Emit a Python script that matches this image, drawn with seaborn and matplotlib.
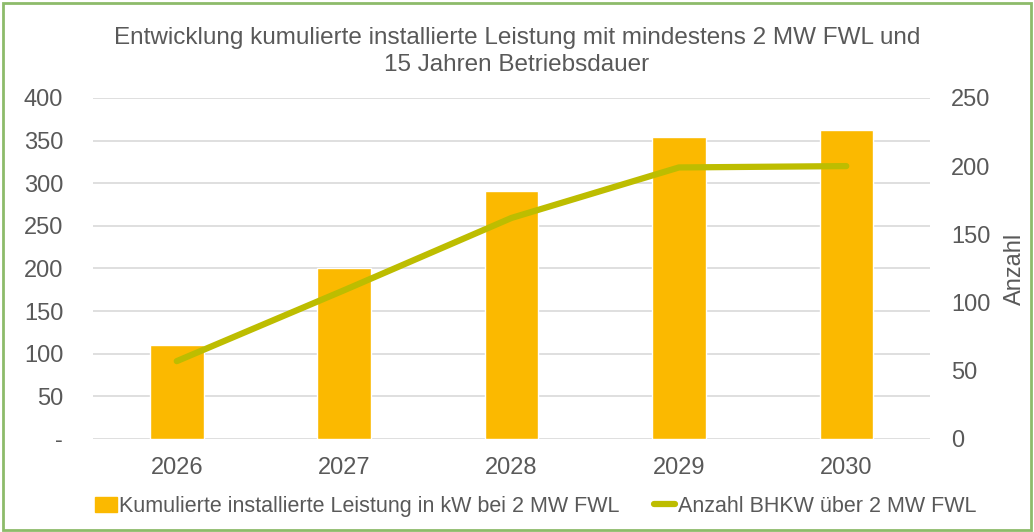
import matplotlib
matplotlib.use("Agg")
import matplotlib.pyplot as plt
import numpy as np
import pandas as pd
import seaborn as sns
from matplotlib.patches import Rectangle
from matplotlib.lines import Line2D
from matplotlib.ticker import FuncFormatter

years = ["2026", "2027", "2028", "2029", "2030"]
leistung_kw = [110, 200, 291, 354, 362]
anzahl_bhkw = [57, 109, 162, 199, 200]

TITLE = "Entwicklung kumulierte installierte Leistung mit mindestens 2 MW FWL und\n15 Jahren Betriebsdauer"
BAR_LABEL = "Kumulierte installierte Leistung in kW bei 2 MW FWL"
LINE_LABEL = "Anzahl BHKW über 2 MW FWL"

BAR_COLOR = "#FBB900"
LINE_COLOR = "#BDBD00"
TEXT_COLOR = "#595959"
GRID_COLOR = "#D9D9D9"

sns.set_style("white")
plt.rcParams["font.family"] = ["Liberation Sans", "DejaVu Sans"]

df = pd.DataFrame({"Jahr": years, "Leistung": leistung_kw, "Anzahl": anzahl_bhkw})
df["pos"] = np.arange(len(df))

fig = plt.figure(figsize=(10.34, 5.32), dpi=100)
ax = fig.add_axes([0.09, 0.175, 0.8094, 0.641])

sns.barplot(data=df, x="Jahr", y="Leistung", color=BAR_COLOR, width=0.32,
            saturation=1, ax=ax, zorder=2)
ax.set_ylim(0, 400)
ax.set_xlim(-0.5, 4.5)
ax.set_yticks(range(0, 401, 50))
ax.yaxis.set_major_formatter(FuncFormatter(lambda v, p: "-" if v == 0 else f"{v:.0f}"))
ax.grid(axis="y", color=GRID_COLOR, linewidth=1.2, zorder=0)
ax.set_axisbelow(True)
ax.set_xlabel("")
ax.set_ylabel("")
for s in ax.spines.values():
    s.set_visible(False)
ax.tick_params(axis="both", length=0, labelsize=17, colors=TEXT_COLOR)
ax.tick_params(axis="y", pad=21.5)
ax.tick_params(axis="x", pad=13)

ax2 = ax.twinx()
sns.lineplot(data=df, x="pos", y="Anzahl", color=LINE_COLOR, linewidth=4.5,
             solid_capstyle="round", ax=ax2, zorder=3)
ax2.set_ylim(0, 250)
ax2.set_xlim(-0.5, 4.5)
ax2.set_yticks(range(0, 251, 50))
ax2.set_xlabel("")
ax2.set_ylabel("Anzahl", fontsize=17, color=TEXT_COLOR, labelpad=10)
for s in ax2.spines.values():
    s.set_visible(False)
ax2.tick_params(axis="y", length=0, labelsize=17, colors=TEXT_COLOR, pad=15)
ax2.grid(False)

fig.text(0.5, 0.95, TITLE, ha="center", va="top", fontsize=17.5,
         color=TEXT_COLOR, linespacing=1.3)

handles = [Rectangle((0, 0), 1, 1, color=BAR_COLOR),
           Line2D([0], [0], color=LINE_COLOR, linewidth=4.5, solid_capstyle="round")]
fig.legend(handles, [BAR_LABEL, LINE_LABEL], loc="center", bbox_to_anchor=(0.518, 0.048),
           ncol=2, frameon=False, fontsize=15.5, labelcolor=TEXT_COLOR,
           handlelength=1.0, handletextpad=0.1, columnspacing=1.6)

fig.patches.append(Rectangle((0.003, 0.004), 0.994, 0.99, transform=fig.transFigure,
                             fill=False, edgecolor="#8DBB6A", linewidth=2))

fig.savefig("out.png", dpi=100)
